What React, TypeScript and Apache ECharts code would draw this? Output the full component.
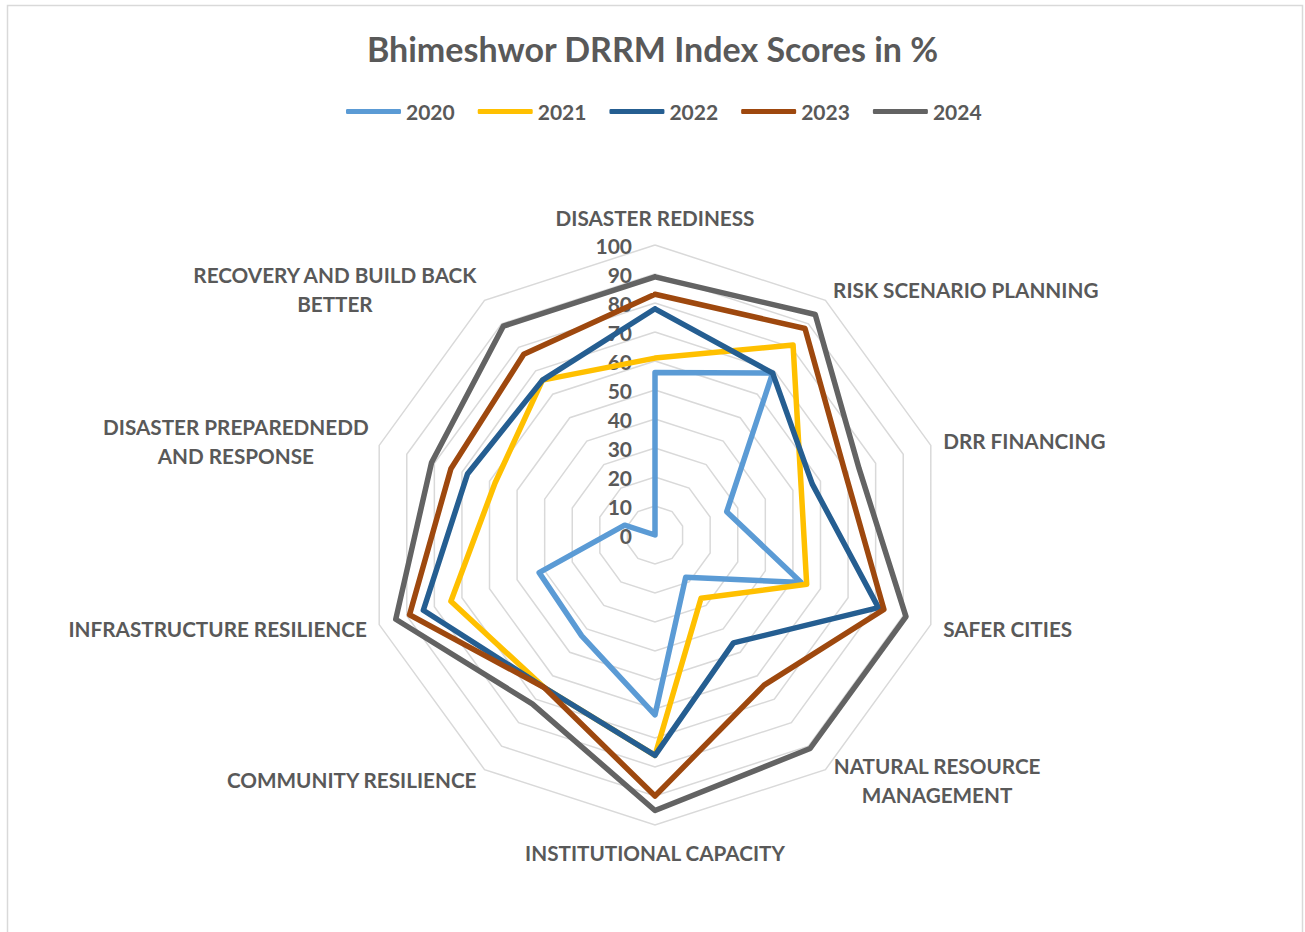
import React, { useEffect, useRef } from 'react';
import * as echarts from 'echarts';

// Indicators in clockwise order starting at the top (as in the reference)
const indicators = [
  'DISASTER REDINESS',
  'RISK SCENARIO PLANNING',
  'DRR FINANCING',
  'SAFER CITIES',
  'NATURAL RESOURCE\nMANAGEMENT',
  'INSTITUTIONAL CAPACITY',
  'COMMUNITY RESILIENCE',
  'INFRASTRUCTURE RESILIENCE',
  'DISASTER PREPAREDNEDD\nAND RESPONSE',
  'RECOVERY AND BUILD BACK\nBETTER',
];

const years = ['2020', '2021', '2022', '2023', '2024'];
const colors = ['#5B9BD5', '#FFC000', '#255E91', '#9E480E', '#636363'];

const scores2020 = [56, 69, 26, 53, 18, 62, 43, 42, 11, 0];
const scores2021 = [61, 81, 53, 55, 27, 76, 65, 74, 58, 66];
const scores2022 = [78, 69, 57, 81, 46, 76, 65, 84, 68, 66];
const scores2023 = [83, 88, 69, 83, 64, 90, 65, 89, 74, 77];
const scores2024 = [89, 94, 74, 91, 91, 95, 72, 94, 81, 89];

const scoreMax = 100;
const scoreStep = 10;

const allScores = [scores2020, scores2021, scores2022, scores2023, scores2024];

const TEXT = '#595959';
const FONT = 'Lato';

// ECharts places radar indicators counter-clockwise; reorder to get clockwise.
const order = [0, 9, 8, 7, 6, 5, 4, 3, 2, 1];

const richKey: Record<string, string> = {
  'NATURAL RESOURCE\nMANAGEMENT': 'nrm',
  'DISASTER PREPAREDNEDD\nAND RESPONSE': 'dpr',
  'RECOVERY AND BUILD BACK\nBETTER': 'rbb',
};

export default function App() {
  const ref = useRef<HTMLDivElement>(null);

  useEffect(() => {
    if (!ref.current) return;
    const chart = echarts.init(ref.current, undefined, { renderer: 'svg' });

    const nameStyle = {
      fontFamily: FONT,
      fontSize: 20.7,
      fontWeight: 'bold' as const,
      color: TEXT,
      lineHeight: 29,
      align: 'center' as const,
    };

    const option: any = {
      animation: false,
      backgroundColor: '#ffffff',
      title: {
        text: 'Bhimeshwor DRRM Index Scores in %',
        left: 'center',
        top: 26,
        textStyle: {
          fontFamily: FONT,
          fontSize: 34,
          fontWeight: 'bold',
          color: TEXT,
        },
      },
      legend: {
        data: years,
        top: 96,
        left: 341,
        icon: 'roundRect',
        itemWidth: 55,
        itemHeight: 5,
        itemGap: 23,
        textStyle: {
          fontFamily: FONT,
          fontSize: 21,
          fontWeight: 'bold',
          color: TEXT,
        },
      },
      graphic: [
        {
          type: 'rect',
          shape: { x: 7.5, y: 5.5, width: 1295, height: 960 },
          style: { fill: 'none', stroke: '#D9D9D9', lineWidth: 1.5 },
          silent: true,
        },
      ],
      radar: {
        center: [655, 535],
        radius: 290,
        startAngle: 90,
        splitNumber: scoreMax / scoreStep,
        shape: 'polygon',
        nameGap: 13,
        axisName: {
          fontFamily: FONT,
          fontSize: 20.7,
          fontWeight: 'bold',
          color: TEXT,
          lineHeight: 29,
          formatter: (name: string) => {
            const key = richKey[name];
            if (!key) return `{n|${name}}`;
            return name
              .split('\n')
              .map((l) => `{${key}|${l}}`)
              .join('\n');
          },
          rich: {
            n: { ...nameStyle },
            nrm: { ...nameStyle, width: 208 },
            dpr: { ...nameStyle, width: 262 },
            rbb: { ...nameStyle, width: 284 },
          },
        },
        axisLine: { show: false },
        axisTick: { show: false },
        axisLabel: { show: false },
        splitLine: { lineStyle: { color: '#D9D9D9', width: 1.5 } },
        splitArea: { show: false },
        indicator: order.map((i) => {
          const ind: any = { name: indicators[i], min: 0, max: scoreMax };
          if (i === 0) {
            ind.axisLabel = {
              show: true,
              margin: 23,
              fontFamily: FONT,
              fontSize: 21,
              fontWeight: 'bold',
              color: TEXT,
              showMinLabel: true,
              showMaxLabel: true,
            };
          }
          return ind;
        }),
      },
      series: [
        {
          type: 'radar',
          symbol: 'none',
          data: years.map((y, j) => ({
            name: y,
            value: order.map((i) => allScores[j][i]),
            symbol: 'none',
            itemStyle: { color: colors[j] },
            lineStyle: { color: colors[j], width: 5.5, join: 'round', cap: 'round' },
          })),
        },
      ],
    };

    chart.setOption(option);
    return () => chart.dispose();
  }, []);

  return (
    <div
      ref={ref}
      style={{ position: 'absolute', left: 0, top: 0, width: 1305, height: 932 }}
    />
  );
}
